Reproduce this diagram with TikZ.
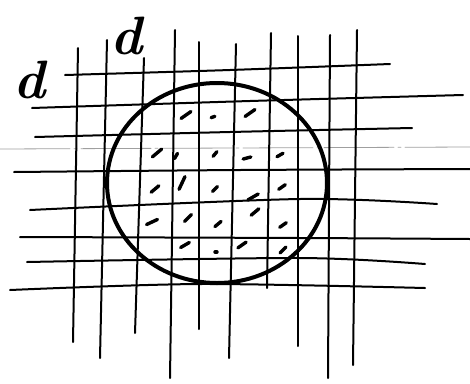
\documentclass[tikz,border=0pt]{standalone}
\usepackage{fontspec}
\usepackage{tikz}

\begin{document}
\begin{tikzpicture}[x=1pt, y=-1pt, line cap=round, line join=round,
  gridline/.style={line width=2pt},
  ring/.style={line width=4pt},
  hatch/.style={line width=3.4pt},
  fold/.style={gray!75, line width=0.8pt, dash pattern=on 70pt off 4pt on 3pt off 4pt},
  lbl/.style={font=\fontsize{54}{54}\selectfont\bfseries\itshape, inner sep=0pt}]

\useasboundingbox (0,0) rectangle (470,383);


\draw[fold] (0,149) -- (470,147);


\foreach \xa/\ya/\xm/\ym/\xb/\yb in {
  65/75/230/70/390/64,
  32/108/250/101/463/95,
  35/137/230/132/412/128,
  14/172/240/170/470/169,
  30/210/300/199/437/204,
  20/237/300/238/470/239,
  27/262/300/258/425/264,
  10/290/200/284/425/288}
  \draw[gridline] plot[smooth] coordinates {(\xa,\ya) (\xm,\ym) (\xb,\yb)};


\foreach \xa/\ya/\xb/\yb in {
  78/48/73/342, 107/40/100/358, 144/58/135/333, 175/30/170/378,
  199/42/199/329, 236/44/229/358, 271/33/267/288, 298/36/298/346,
  330/35/328/378, 357/30/353/365}
  \draw[gridline] (\xa,\ya) -- (\xb,\yb);


\draw[ring] (217,183) ellipse[x radius=110, y radius=100];


\foreach \x/\y/\a/\l in {
  186/115/35/12, 213/117/20/4, 250/113/35/12,
  157/153/40/12, 176/156/60/6, 215/154/50/6, 247/158/15/8, 280/155/30/7,
  155/189/40/10, 182/183/65/14, 215/189/45/7, 253/197/30/12, 282/187/35/8,
  152/222/25/12, 188/218/45/10, 218/224/40/8, 255/212/40/10, 283/225/35/8,
  185/245/30/10, 216/252/0/2, 242/245/35/10, 283/250/45/8}
  \draw[hatch] ({\x-0.5*\l*cos(\a)},{\y+0.5*\l*sin(\a)})
    -- ({\x+0.5*\l*cos(\a)},{\y-0.5*\l*sin(\a)});


\node[lbl] (lblleft) at (29,80) {d};
\node[lbl] (lbltop) at (126,36) {d};

\end{tikzpicture}
\end{document}
